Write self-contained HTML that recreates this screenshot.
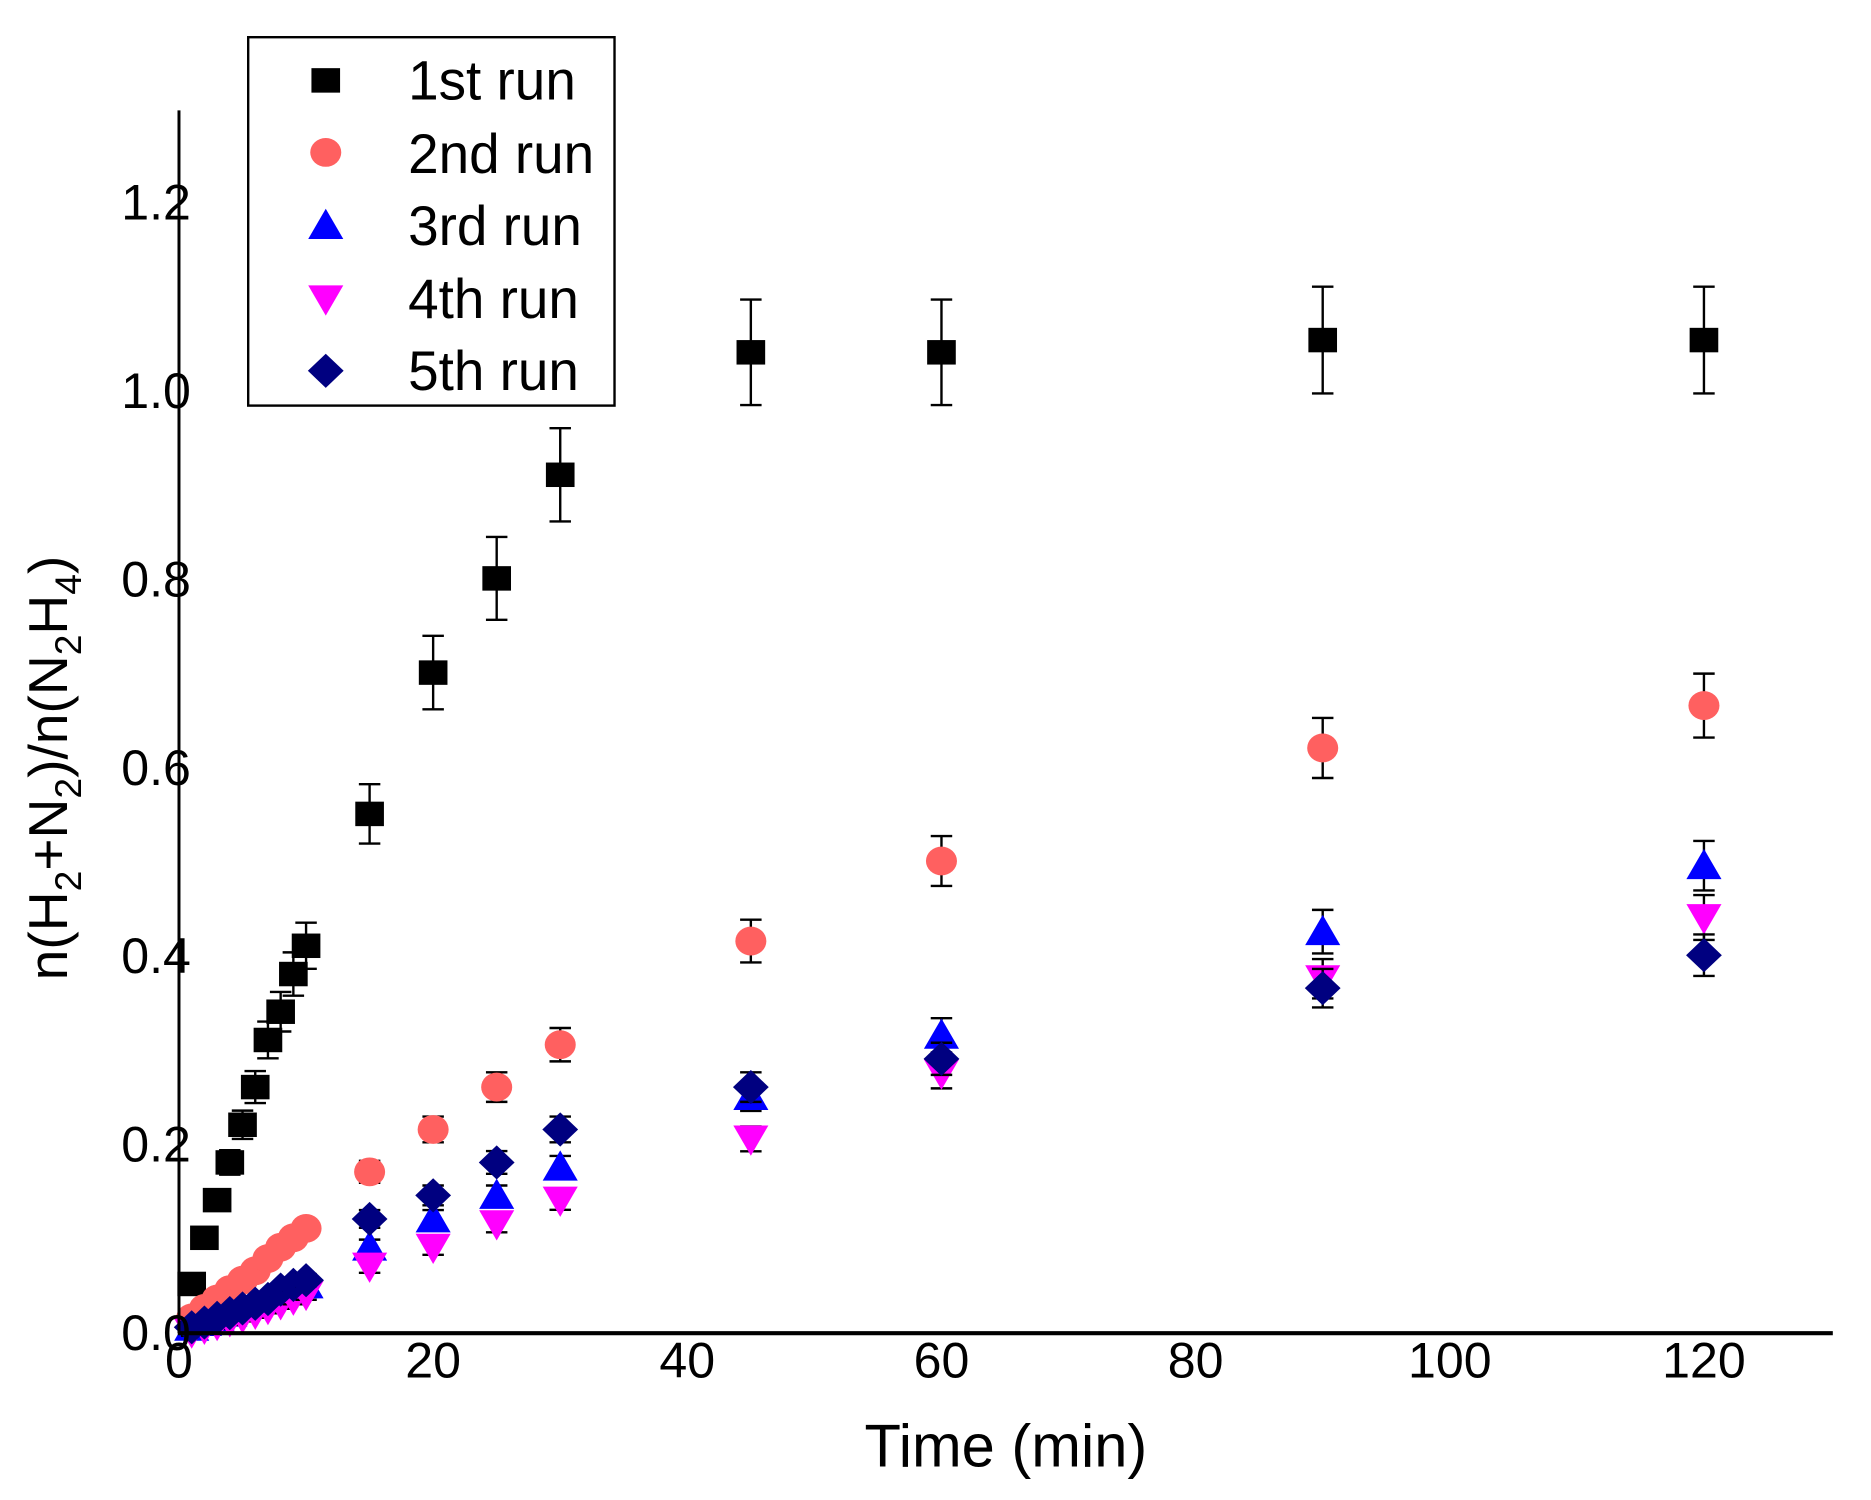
<!DOCTYPE html>
<html><head><meta charset="utf-8"><style>html,body{margin:0;padding:0;background:#fff;}svg{display:block;}</style></head>
<body>
<svg id="s" width="1871" height="1500" viewBox="0 0 1568 1250" preserveAspectRatio="none" xmlns="http://www.w3.org/2000/svg" font-family="Liberation Sans, Arial, sans-serif">
<rect width="1568" height="1250" fill="#fff"/>
<g id="data"></g>
<line x1="150" y1="92" x2="150" y2="1111" stroke="#000" stroke-width="2.5"/>
<line x1="149" y1="1111" x2="1536" y2="1111" stroke="#000" stroke-width="3.5"/>
<g font-size="42" text-anchor="end" fill="#000">
<text x="160" y="1125">0.0</text><text x="160" y="968">0.2</text><text x="160" y="811">0.4</text><text x="160" y="654">0.6</text><text x="160" y="497">0.8</text><text x="160" y="340">1.0</text><text x="160" y="183">1.2</text>
</g>
<g font-size="42" text-anchor="middle" fill="#000">
<text x="150" y="1148">0</text><text x="363" y="1148">20</text><text x="576" y="1148">40</text><text x="789" y="1148">60</text><text x="1002" y="1148">80</text><text x="1215" y="1148">100</text><text x="1428" y="1148">120</text>
</g>
<text x="843" y="1222" font-size="50" text-anchor="middle">Time (min)</text>
<text transform="translate(56,640) rotate(-90)" font-size="46" text-anchor="middle">n(H<tspan font-size="31" dy="12">2</tspan><tspan dy="-12">+N</tspan><tspan font-size="31" dy="12">2</tspan><tspan dy="-12">)/n(N</tspan><tspan font-size="31" dy="12">2</tspan><tspan dy="-12">H</tspan><tspan font-size="31" dy="12">4</tspan><tspan dy="-12">)</tspan></text>
<rect x="208" y="31" width="307" height="307" fill="#fff" stroke="#000" stroke-width="2"/>
<g id="leg"></g>
<g font-size="46" fill="#000">
<text x="342" y="83">1st run</text><text x="342" y="144">2nd run</text><text x="342" y="204">3rd run</text><text x="342" y="265">4th run</text><text x="342" y="325">5th run</text>
</g>
</svg>
<script>
var NS="http://www.w3.org/2000/svg";
function X(t){return 150+10.65*t;}function Y(v){return 1110-785*v;}
function mk(type,cx,cy,s){s=s||1;var e;
 if(type==0){e=document.createElementNS(NS,"rect");var h=12*s;e.setAttribute("x",cx-h);e.setAttribute("y",cy-h*0.85);e.setAttribute("width",2*h);e.setAttribute("height",1.7*h);e.setAttribute("fill","#000");}
 else if(type==1){e=document.createElementNS(NS,"ellipse");e.setAttribute("cx",cx);e.setAttribute("cy",cy);e.setAttribute("rx",13*s);e.setAttribute("ry",12*s);e.setAttribute("fill","#ff6060");}
 else if(type==2){e=document.createElementNS(NS,"polygon");var a=14*s;e.setAttribute("points",(cx)+","+(cy-a)+" "+(cx+a*1.05)+","+(cy+a*0.8)+" "+(cx-a*1.05)+","+(cy+a*0.8));e.setAttribute("fill","#0000ff");}
 else if(type==3){e=document.createElementNS(NS,"polygon");var a=14*s;e.setAttribute("points",(cx)+","+(cy+a)+" "+(cx+a*1.05)+","+(cy-a*0.8)+" "+(cx-a*1.05)+","+(cy-a*0.8));e.setAttribute("fill","#ff00ff");}
 else {e=document.createElementNS(NS,"polygon");var a=15*s;e.setAttribute("points",cx+","+(cy-a*0.95)+" "+(cx+a)+","+cy+" "+cx+","+(cy+a*0.95)+" "+(cx-a)+","+cy);e.setAttribute("fill","#000080");}
 return e;}
function line(g,x1,y1,x2,y2){var l=document.createElementNS(NS,"line");l.setAttribute("x1",x1);l.setAttribute("y1",y1);l.setAttribute("x2",x2);l.setAttribute("y2",y2);l.setAttribute("stroke","#000");l.setAttribute("stroke-width","2");g.appendChild(l);}
var T=[1,2,3,4,5,6,7,8,9,10,15,20,25,30,45,60,90,120];
var D=[
[0.051,0.10,0.14,0.18,0.22,0.26,0.31,0.34,0.38,0.41,0.55,0.70,0.80,0.91,1.04,1.04,1.053,1.053],
[0.015,0.025,0.035,0.045,0.055,0.065,0.078,0.09,0.10,0.11,0.17,0.215,0.26,0.305,0.415,0.50,0.62,0.665],
[0.005,0.01,0.015,0.02,0.025,0.03,0.035,0.04,0.045,0.05,0.09,0.12,0.145,0.175,0.25,0.315,0.425,0.495],
[0.0,0.004,0.008,0.012,0.016,0.02,0.025,0.03,0.035,0.04,0.07,0.09,0.115,0.14,0.205,0.275,0.375,0.44],
[0.005,0.01,0.015,0.02,0.025,0.03,0.035,0.045,0.05,0.055,0.12,0.145,0.18,0.215,0.26,0.29,0.365,0.40]];
var g=document.getElementById("data");
for(var k=0;k<5;k++){for(var i=0;i<T.length;i++){var cx=X(T[i]),cy=Y(D[k][i]);var e=D[k][i]*(k==0?0.05:0.045)+0.004;var dy=e*785;
 line(g,cx,cy-dy,cx,cy+dy);line(g,cx-9,cy-dy,cx+9,cy-dy);line(g,cx-9,cy+dy,cx+9,cy+dy);
 g.appendChild(mk(k,cx,cy));}}
var lg=document.getElementById("leg");var ly=[67,127,188,249,309];
for(var k=0;k<5;k++)lg.appendChild(mk(k,273,ly[k]));
</script>
</body></html>
